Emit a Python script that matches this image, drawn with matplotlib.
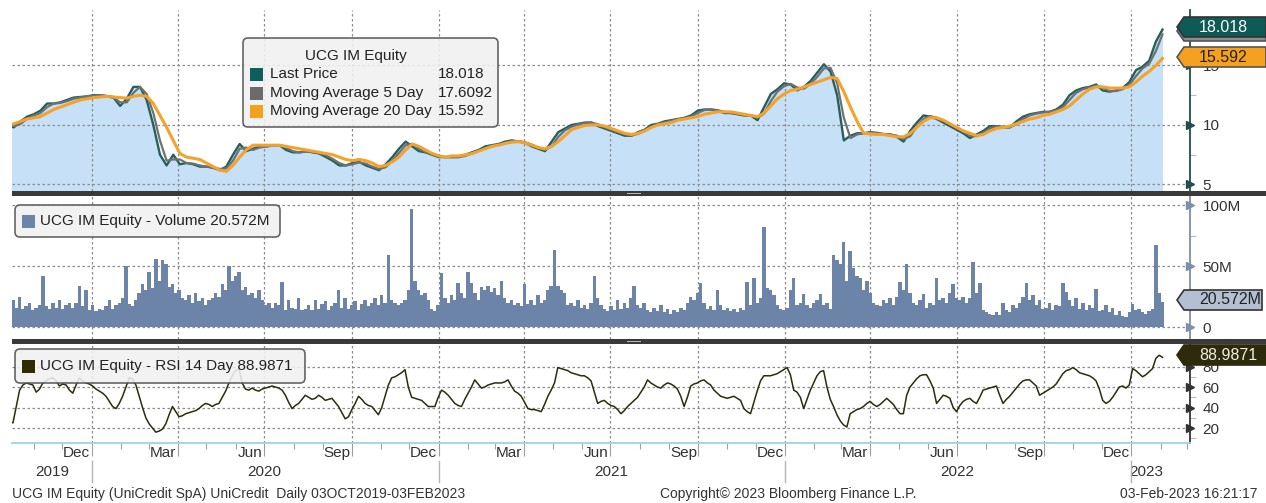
import numpy as np
import pandas as pd
import matplotlib
matplotlib.use('Agg')
import matplotlib.pyplot as plt
import matplotlib.dates as mdates
from matplotlib.patches import FancyBboxPatch, Rectangle, Polygon
from matplotlib.lines import Line2D
from matplotlib.transforms import blended_transform_factory

plt.rcParams['font.family'] = ['Liberation Sans', 'DejaVu Sans']

# ---------------- data ----------------
week_start, week_end = '2019-10-04', '2023-02-03'
price = [10.0, 9.8, 10.3, 10.7, 10.9, 11.2, 11.8, 11.8, 11.9, 12.1,
         12.3, 12.35, 12.4, 12.5, 12.5, 12.4, 12.3, 11.6, 12.2, 13.2,
         13.2, 12.1, 10.0, 7.5, 6.6, 7.5, 6.7, 6.8, 6.7, 6.5,
         6.5, 6.4, 6.2, 6.5, 7.5, 8.4, 7.8, 8.0, 8.2, 8.2,
         8.3, 8.3, 7.9, 7.7, 7.7, 7.8, 7.7, 7.6, 7.3, 7.0,
         6.6, 6.6, 6.8, 6.9, 6.6, 6.4, 6.2, 6.7, 7.3, 8.0,
         8.6, 8.2, 7.8, 7.7, 7.5, 7.3, 7.3, 7.3, 7.3, 7.5,
         7.7, 7.9, 8.2, 8.3, 8.4, 8.6, 8.7, 8.6, 8.5, 8.2,
         8.0, 7.8, 8.6, 9.4, 9.7, 10.0, 10.1, 10.2, 10.2, 9.9,
         9.7, 9.5, 9.3, 9.1, 9.1, 9.4, 9.6, 10.0, 10.1, 10.3,
         10.4, 10.5, 10.6, 10.8, 11.2, 11.3, 11.3, 11.2, 11.0, 11.0,
         10.9, 10.8, 10.8, 10.4, 11.5, 12.6, 13.0, 13.5, 13.4, 12.9,
         13.2, 13.7, 14.4, 15.1, 14.5, 12.5, 8.7, 9.1, 9.3, 9.3,
         9.4, 9.3, 9.2, 9.2, 9.0, 8.6, 9.5, 10.2, 10.8, 10.7,
         10.5, 10.2, 9.9, 9.6, 9.3, 8.9, 9.2, 9.5, 9.9, 9.9,
         9.8, 9.8, 10.3, 10.7, 10.9, 11.0, 11.1, 11.1, 11.3, 11.7,
         12.5, 12.9, 13.1, 13.2, 13.4, 12.9, 12.8, 12.9, 13.1, 13.6,
         14.6, 14.9, 15.4, 17.0, 18.018]
ma5 = [10.0, 9.9, 10.1, 10.5, 10.8, 11.0, 11.5, 11.8, 11.85, 12.0,
       12.2, 12.3, 12.4, 12.45, 12.5, 12.45, 12.35, 11.9, 11.9, 12.7,
       13.2, 12.6, 11.0, 8.7, 7.0, 7.1, 7.1, 6.8, 6.75, 6.6,
       6.5, 6.45, 6.3, 6.35, 7.0, 8.0, 8.1, 7.9, 8.1, 8.2,
       8.25, 8.3, 8.1, 7.8, 7.7, 7.75, 7.75, 7.65, 7.45, 7.15,
       6.8, 6.6, 6.7, 6.85, 6.75, 6.5, 6.3, 6.45, 7.0, 7.65,
       8.3, 8.4, 8.0, 7.75, 7.6, 7.4, 7.3, 7.3, 7.3, 7.4,
       7.6, 7.8, 8.05, 8.25, 8.35, 8.5, 8.65, 8.65, 8.55, 8.35,
       8.1, 7.9, 8.2, 9.0, 9.55, 9.85, 10.05, 10.15, 10.2, 10.05,
       9.8, 9.6, 9.4, 9.2, 9.1, 9.25, 9.5, 9.8, 10.05, 10.2,
       10.35, 10.45, 10.55, 10.7, 11.0, 11.25, 11.3, 11.25, 11.1, 11.0,
       10.95, 10.85, 10.8, 10.6, 10.95, 12.0, 12.8, 13.25, 13.45, 13.15,
       13.05, 13.45, 14.05, 14.75, 14.8, 13.5, 10.6, 8.9, 9.2, 9.3,
       9.35, 9.35, 9.25, 9.2, 9.1, 8.8, 9.05, 9.85, 10.5, 10.75,
       10.6, 10.35, 10.05, 9.75, 9.45, 9.1, 9.05, 9.35, 9.7, 9.9,
       9.85, 9.8, 10.05, 10.5, 10.8, 10.95, 11.05, 11.1, 11.2, 11.5,
       12.1, 12.7, 13.0, 13.15, 13.3, 13.15, 12.85, 12.85, 13.0, 13.35,
       14.1, 14.75, 15.15, 16.2, 17.6092]
ma20 = [10.0, 10.1, 10.3, 10.5, 10.6, 10.7, 11.0, 11.3, 11.5, 11.7,
        11.9, 12.1, 12.2, 12.3, 12.35, 12.4, 12.35, 12.3, 12.25, 12.4,
        12.5, 12.4, 11.8, 10.8, 9.8, 8.7, 7.6, 7.3, 7.2, 7.1,
        6.8, 6.5, 6.2, 6.1, 6.6, 7.3, 7.9, 8.3, 8.3, 8.3,
        8.3, 8.3, 8.2, 8.1, 8.0, 7.9, 7.8, 7.7, 7.6, 7.5,
        7.3, 7.1, 7.0, 7.1, 7.0, 6.8, 6.5, 6.6, 6.9, 7.3,
        7.9, 8.4, 8.2, 7.9, 7.6, 7.4, 7.3, 7.4, 7.4, 7.5,
        7.6, 7.8, 8.0, 8.2, 8.3, 8.45, 8.55, 8.6, 8.5, 8.3,
        8.1, 8.0, 8.2, 8.6, 9.1, 9.6, 9.8, 9.95, 10.0, 10.0,
        9.9, 9.7, 9.5, 9.3, 9.2, 9.3, 9.5, 9.8, 10.0, 10.1,
        10.2, 10.4, 10.5, 10.6, 10.7, 10.9, 11.0, 11.1, 11.1, 11.1,
        11.0, 10.9, 10.8, 10.7, 11.0, 11.6, 12.2, 12.6, 12.9, 13.0,
        13.2, 13.4, 13.6, 13.8, 14.0, 13.9, 12.8, 11.5, 10.3, 9.3,
        9.25, 9.2, 9.2, 9.1, 9.0, 9.0, 9.3, 9.8, 10.3, 10.6,
        10.6, 10.4, 10.1, 9.8, 9.5, 9.3, 9.1, 9.2, 9.5, 9.7,
        9.8, 9.9, 10.1, 10.3, 10.5, 10.6, 10.8, 10.9, 11.1, 11.3,
        11.6, 12.1, 12.6, 13.0, 13.2, 13.2, 13.1, 13.1, 13.1, 13.2,
        13.6, 14.1, 14.5, 15.0, 15.592]

day_start, day_end = '2019-10-03', '2023-02-03'
volume_m = [14, 18, 22, 16, 25, 15, 17, 20, 14, 16,
            18, 42, 17, 15, 20, 16, 22, 15, 18, 20,
            16, 20, 34, 17, 30, 14, 18, 13, 15, 14,
            17, 22, 15, 18, 20, 24, 50, 19, 17, 22,
            28, 35, 30, 45, 32, 56, 38, 55, 52, 33,
            35, 28, 30, 24, 22, 26, 20, 28, 21, 24,
            18, 22, 24, 28, 25, 35, 30, 50, 38, 42,
            45, 30, 33, 26, 28, 24, 30, 22, 18, 20,
            16, 20, 18, 37, 14, 22, 16, 15, 24, 14,
            15, 18, 14, 22, 15, 19, 21, 14, 17, 20,
            30, 16, 24, 15, 18, 21, 14, 19, 22, 17,
            20, 24, 18, 26, 20, 59, 22, 20, 18, 20,
            22, 30, 97, 38, 30, 26, 28, 22, 15, 13,
            18, 44, 24, 20, 26, 22, 36, 28, 24, 45,
            36, 28, 22, 33, 30, 34, 29, 32, 26, 38,
            24, 20, 22, 18, 20, 17, 35, 19, 22, 18,
            26, 20, 22, 30, 34, 63, 34, 30, 28, 18,
            20, 17, 22, 16, 18, 15, 20, 42, 24, 18,
            15, 13, 17, 14, 22, 15, 20, 16, 24, 34,
            18, 16, 20, 14, 12, 16, 13, 18, 12, 15,
            11, 14, 12, 16, 14, 20, 25, 22, 28, 36,
            20, 15, 17, 14, 30, 18, 14, 16, 13, 15,
            12, 16, 14, 37, 18, 40, 20, 24, 82, 32,
            30, 26, 18, 15, 14, 16, 30, 40, 18, 20,
            27, 18, 16, 20, 22, 27, 18, 20, 15, 59,
            55, 52, 70, 38, 62, 48, 42, 40, 30, 38,
            28, 20, 18, 17, 22, 20, 24, 18, 25, 37,
            30, 52, 28, 20, 18, 22, 27, 16, 20, 18,
            40, 22, 24, 20, 28, 35, 24, 22, 25, 20,
            24, 53, 28, 36, 14, 12, 11, 10, 12, 10,
            20, 14, 12, 18, 16, 20, 25, 36, 22, 26,
            18, 22, 15, 16, 20, 14, 18, 17, 36, 29,
            22, 17, 24, 15, 20, 14, 18, 16, 31, 13,
            14, 18, 12, 16, 10, 13, 9, 8, 12, 19,
            14, 15, 12, 11, 13, 15, 67, 28, 20.572]
rsi = [28, 26, 25, 41, 57, 62, 64, 63, 62, 55,
       58, 64, 66, 68, 69, 66, 61, 63, 62, 57,
       54, 62, 69, 66, 64, 63, 61, 58, 56, 54,
       51, 46, 41, 39, 44, 51, 60, 69, 68, 62,
       51, 40, 30, 24, 20, 16, 17, 19, 24, 33,
       41, 36, 31, 32, 34, 35, 36, 37, 39, 42,
       44, 43, 41, 43, 44, 50, 56, 64, 71, 76,
       78, 64, 58, 57, 59, 57, 56, 58, 59, 60,
       61, 60, 59, 57, 52, 45, 39, 42, 44, 48,
       52, 50, 48, 49, 52, 50, 47, 48, 49, 45,
       41, 35, 29, 31, 38, 44, 51, 48, 44, 42,
       41, 37, 33, 40, 51, 62, 69, 70, 72, 74,
       77, 60, 50, 49, 48, 47, 44, 41, 41, 41,
       50, 57, 55, 52, 48, 44, 42, 41, 48, 54,
       60, 67, 63, 59, 60, 62, 63, 64, 64, 64,
       65, 67, 61, 56, 54, 51, 45, 39, 38, 38,
       37, 36, 43, 51, 57, 64, 79, 78, 77, 76,
       74, 73, 72, 71, 71, 69, 66, 55, 44, 46,
       47, 44, 42, 41, 38, 34, 37, 41, 44, 47,
       50, 55, 60, 67, 64, 62, 60, 59, 62, 64,
       63, 61, 58, 51, 41, 50, 61, 63, 64, 66,
       67, 64, 62, 57, 54, 51, 50, 49, 50, 51,
       49, 47, 39, 36, 34, 45, 56, 66, 71, 71,
       71, 72, 73, 75, 77, 79, 72, 57, 55, 50,
       39, 48, 57, 64, 71, 75, 76, 60, 48, 41,
       33, 27, 23, 21, 34, 36, 38, 39, 41, 44,
       46, 43, 41, 43, 46, 49, 46, 43, 38, 34,
       34, 52, 60, 64, 68, 71, 72, 72, 66, 59,
       44, 48, 52, 51, 49, 40, 36, 42, 46, 48,
       49, 46, 44, 50, 57, 58, 59, 60, 61, 52,
       44, 48, 51, 55, 59, 63, 66, 67, 67, 64,
       61, 52, 54, 56, 58, 60, 63, 68, 73, 76,
       77, 79, 77, 74, 73, 72, 71, 69, 66, 58,
       47, 44, 46, 50, 55, 60, 61, 59, 62, 78,
       76, 73, 70, 72, 75, 78, 88, 91, 88.9871]

month_labels = ['Dec', 'Mar', 'Jun', 'Sep']
year_labels = ['2019', '2020', '2021', '2022', '2023']
price_ticks = [5, 10, 15]
vol_ticks = [0, 50e6, 100e6]
vol_tick_labels = ['0', '50M', '100M']
rsi_ticks = [20, 40, 60, 80]
legend_rows = ['Last Price', 'Moving Average 5 Day', 'Moving Average 20 Day']
legend_vals = ['18.018', '17.6092', '15.592']

# ---------------- figure ----------------
W, H = 1266, 503
fig = plt.figure(figsize=(W / 100, H / 100), dpi=100)
fig.patch.set_facecolor('white')
PX = fig.dpi_scale_trans  # inches


def P(x, y):  # pixel (from top-left) -> inches
    return (x / 100.0, (H - y) / 100.0)


def axrect(x0, y0, x1, y1):
    return [x0 / W, 1 - y1 / H, (x1 - x0) / W, (y1 - y0) / H]


X0, X1 = 12, 1190
ax_p = fig.add_axes(axrect(X0, 10, X1, 191))
ax_v = fig.add_axes(axrect(X0, 196, X1, 339))
ax_r = fig.add_axes(axrect(X0, 344, X1, 443))

wk = pd.date_range(week_start, week_end, periods=len(price))
dd = pd.date_range(day_start, day_end, periods=len(rsi))
xlim = (mdates.date2num(pd.Timestamp('2019-10-09')), mdates.date2num(pd.Timestamp('2023-03-04')))
qstarts = pd.date_range('2020-01-01', '2023-01-01', freq='QS')
mstarts = pd.date_range('2019-11-01', '2023-03-01', freq='MS')

GRID = dict(color='#8c8c8c', lw=0.9, linestyle=(0, (2, 2)))

for ax in (ax_p, ax_v, ax_r):
    ax.set_xlim(*xlim)
    ax.set_facecolor('white')
    for s in ('left', 'top', 'bottom'):
        ax.spines[s].set_visible(False)
    ax.yaxis.tick_right()
    ax.tick_params(axis='y', which='major', length=0, pad=9, labelsize=11, labelcolor='#333333')
    ax.tick_params(axis='y', which='minor', length=4, width=0.8, color='#bbbbbb', direction='out')
    for q in qstarts:
        ax.axvline(q, zorder=2, **GRID)

# --- price panel ---
ax_p.set_ylim(4.45, 19.66)
ax_p.fill_between(wk, price, 0, color='#c6e0f8', lw=0, zorder=1)
for v in price_ticks:
    ax_p.axhline(v, zorder=2, **GRID)
ax_p.plot(wk, price, color='#275f5d', lw=1.7, zorder=3)
ax_p.plot(wk, ma5, color='#6d7373', lw=1.6, zorder=3.5)
ax_p.plot(wk, ma20, color='#f4a229', lw=2.2, zorder=4)
ax_p.set_xticks([])
ax_p.set_yticks(price_ticks)
ax_p.set_yticks([7.5, 12.5, 17.5], minor=True)
ax_p.spines['right'].set_color('#1f4f4c')
ax_p.spines['right'].set_linewidth(1.3)

# --- volume panel ---
ax_v.set_ylim(-9.8e6, 107.4e6)
for v in vol_ticks:
    ax_v.axhline(v, zorder=1, **GRID)
ax_v.bar(dd, np.array(volume_m) * 1e6, width=3.7, color='#6b84a8', lw=0, zorder=3)
ax_v.set_xticks([])
ax_v.set_yticks(vol_ticks)
ax_v.set_yticklabels(vol_tick_labels)
ax_v.set_yticks([25e6, 75e6], minor=True)
ax_v.spines['right'].set_color('#7d8fab')
ax_v.spines['right'].set_linewidth(1.3)

# --- RSI panel ---
ax_r.set_ylim(5.4, 102)
for v in rsi_ticks:
    ax_r.axhline(v, zorder=1, **GRID)
ax_r.plot(dd, rsi, color='#2e2c0e', lw=1.1, zorder=3)
ax_r.set_yticks(rsi_ticks)
ax_r.set_yticks([10, 30, 50, 70, 90], minor=True)
ax_r.spines['right'].set_color('#333333')
ax_r.spines['right'].set_linewidth(1.3)
ax_r.spines['bottom'].set_visible(True)
ax_r.spines['bottom'].set_color('#9ad6df')
ax_r.spines['bottom'].set_linewidth(1.3)
ax_r.set_xticks(qstarts)
ax_r.set_xticks(mstarts, minor=True)
ax_r.tick_params(axis='x', which='major', length=9, width=0.8, color='#a0a0a0', labelbottom=False)
ax_r.tick_params(axis='x', which='minor', length=4, width=0.8, color='#a0a0a0', labelbottom=False)

# right-axis triangle ticks
for ax, ticks, col in ((ax_p, price_ticks, '#1f4f4c'), (ax_v, vol_ticks, '#7d8fab'), (ax_r, rsi_ticks, '#333333')):
    tr = blended_transform_factory(ax.transAxes, ax.transData)
    ax.plot([1.0] * len(ticks), ticks, transform=tr, marker='>', ms=5.5, color=col,
            ls='none', clip_on=False, zorder=6)

# month / year labels
trx = blended_transform_factory(ax_r.transData, fig.transFigure)
mid_months = []
for yr in range(2019, 2023):
    for m in (3, 6, 9, 12):
        d = pd.Timestamp(yr, m, 16)
        if pd.Timestamp('2019-10-09') < d < pd.Timestamp('2023-03-04'):
            mid_months.append(d)
for d in mid_months:
    ax_r.text(d, 1 - 453 / H, month_labels[[12, 3, 6, 9].index(d.month)], transform=trx,
              ha='center', va='center', fontsize=11, color='#333333')
year_pos = ['2019-11-20', '2020-07-01', '2021-07-02', '2022-07-02', '2023-01-17']
for lab, d in zip(year_labels, year_pos):
    ax_r.text(pd.Timestamp(d), 1 - 472 / H, lab, transform=trx, ha='center', va='center',
              fontsize=11, color='#333333')
for yr in (2020, 2021, 2022, 2023):
    x = mdates.date2num(pd.Timestamp(yr, 1, 1))
    fig.add_artist(Line2D([x, x], [1 - 461 / H, 1 - 482 / H], transform=trx, color='#b5b5b5', lw=1))

# separators
for y0 in (191, 339):
    fig.add_artist(Rectangle(P(12, y0 + 5), (W - 12) / 100, 5 / 100, transform=PX,
                             facecolor='#3a3a3a', edgecolor='none', zorder=5))
    fig.add_artist(Rectangle(P(627, y0 + 3), 14 / 100, 1.2 / 100, transform=PX,
                             facecolor='#b8b8b8', edgecolor='none', zorder=6))

# legend boxes
def box(x0, y0, x1, y1):
    fig.add_artist(FancyBboxPatch(P(x0, y1), (x1 - x0) / 100, (y1 - y0) / 100, transform=PX,
                                  boxstyle='round,pad=0,rounding_size=0.05',
                                  facecolor='#f1f1f1', edgecolor='#505050', lw=1.2, alpha=0.88,
                                  zorder=7))


def square(x, yc, col):
    fig.add_artist(Rectangle(P(x, yc + 6.5), 13 / 100, 13 / 100, transform=PX,
                             facecolor=col, edgecolor='none', zorder=8))


def ftext(x, y, s, **kw):
    kw.setdefault('fontsize', 11)
    kw.setdefault('color', '#222222')
    kw.setdefault('va', 'center')
    kw.setdefault('ha', 'left')
    fig.text(x / W, 1 - y / H, s, zorder=9, **kw)


box(243, 38, 498, 127)
ftext(356, 56, 'UCG IM Equity', ha='center')
for lab, val, yc, col in zip(legend_rows, legend_vals, (74, 93, 111), ('#0d5f59', '#6b6b6b', '#f5a01e')):
    square(250, yc, col)
    ftext(270, yc, lab)
    ftext(438, yc, val)

box(15, 205, 280, 237)
square(22, 221, '#6b84a8')
ftext(40, 221, 'UCG IM Equity - Volume 20.572M')

box(15, 349, 305, 383)
square(22, 366, '#2e2c05')
ftext(40, 366, 'UCG IM Equity - RSI 14 Day 88.9871')


# value tags on right axis
def tag(yc, fc, ec, text, tc, h=20, x1=1266):
    x0 = 1184
    pts = [P(x0 - 7, yc), P(x0, yc - h / 2), P(x1, yc - h / 2), P(x1, yc + h / 2), P(x0, yc + h / 2)]
    fig.add_artist(Polygon(pts, closed=True, transform=PX, facecolor=fc, edgecolor=ec, lw=1.2, zorder=8))
    if text:
        ftext(1199, yc, text, color=tc, fontsize=11.5)


tag(31, '#8a8f8f', '#555555', '', '#ffffff')
tag(27, '#0e5a55', '#333333', '18.018', '#ffffff')
tag(57, '#f5a01e', '#555555', '15.592', '#222222')
tag(300, '#b4c0d2', '#333333', '20.572M', '#222222', x1=1262)
tag(355, '#2d2b0b', '#2d2b0b', '88.9871', '#f0f0e0')

# footer
ftext(12, 494, 'UCG IM Equity (UniCredit SpA) UniCredit  Daily 03OCT2019-03FEB2023', fontsize=10, color='#333333')
ftext(660, 494, 'Copyright\u00a9 2023 Bloomberg Finance L.P.', fontsize=10, color='#333333')
ftext(1257, 494, '03-Feb-2023 16:21:17', fontsize=10, color='#333333', ha='right')

fig.savefig('out.png', dpi=100, facecolor='white')
